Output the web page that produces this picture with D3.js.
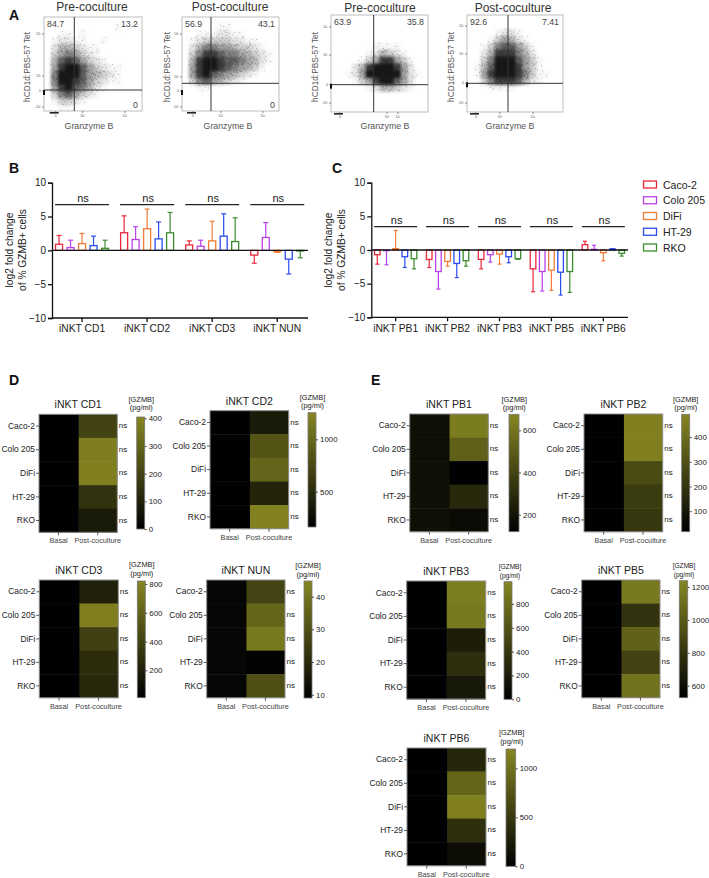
<!DOCTYPE html>
<html><head><meta charset="utf-8">
<script src="https://cdn.jsdelivr.net/npm/d3@7"></script>
<style>
html,body{margin:0;padding:0;background:#fff}
svg{display:block}
text{font-family:"Liberation Sans",Arial,sans-serif;fill:#222}
</style></head><body>
<svg id="chart" width="709" height="878"></svg>
<script>
// ---------- data ----------
const cellLines = ["Caco-2","Colo 205","DiFi","HT-29","RKO"];
const lineColors = ["#e8283c","#b840e8","#f07c38","#2a4cf2","#3c8c2c"];

// Panel B: bar means and whisker tips (log2 fold change)
const bGroups = ["iNKT CD1","iNKT CD2","iNKT CD3","iNKT NUN"];
const bMeans = [[0.9,0.4,1.0,0.7,0.3],[2.6,1.6,3.2,1.7,2.6],[0.8,0.6,1.4,2.1,1.3],[-0.7,1.9,-0.2,-1.3,-0.1]];
const bTips  = [[2.2,1.5,2.5,2.1,1.5],[5.1,3.5,6.1,4.2,5.6],[1.4,1.5,4.3,5.4,4.8],[-1.9,4.1,-0.3,-3.5,-1.1]];
// Panel C
const cGroups = ["iNKT PB1","iNKT PB2","iNKT PB3","iNKT PB5","iNKT PB6"];
const cMeans = [[-0.7,-0.1,0.2,-1.0,-1.3],[-1.4,-3.2,-1.7,-2.0,-1.6],[-1.4,-0.7,-0.6,-1.0,-1.3],[-2.8,-3.2,-3.0,-3.3,-3.2],[0.8,0.1,-0.4,0.15,-0.5]];
const cTips  = [[-2.1,-2.2,2.9,-2.6,-2.8],[-2.6,-5.8,-2.4,-4.1,-2.4],[-2.8,-1.8,-2.1,-1.9,-1.4],[-6.2,-6.1,-6.0,-6.7,-6.3],[1.3,0.7,-1.6,0.2,-0.9]];
const yTicksBar = [-10,-5,0,5,10];

// Heatmaps: [GZMB] pg/ml, basal and post-coculture per cell line
const conditions = ["Basal","Post-coculture"];
const cd1Basal=[2,3,2,2,3],       cd1Post=[200,380,385,150,80];
const cd2Basal=[170,170,170,170,170], cd2Post=[380,840,980,460,1220];
const cd3Basal=[15,15,15,15,15],  cd3Post=[210,780,400,280,250];
const nunBasal=[10.5,10.5,10.5,10.5,10.5], nunPost=[27,36,41,9.5,30];
const pb1Basal=[180,180,180,180,180], pb1Post=[630,520,122,285,165];
const pb2Basal=[20,20,20,20,20],  pb2Post=[470,468,280,230,215];
const pb3Basal=[10,10,10,10,10],  pb3Post=[910,890,215,345,175];
const pb5Basal=[530,530,530,530,530], pb5Post=[1170,800,1040,870,1130];
const pb6Basal=[10,10,10,10,10],  pb6Post=[335,900,1135,420,120];

// Flow cytometry: event density per coarse cell (0 = empty, 9 = darkest), top row first
const flowTitles = ["Pre-coculture","Post-coculture","Pre-coculture","Post-coculture"];
const flowLabels = [["84.7","13.2","0"],["56.9","43.1","0"],["63.9","35.8",""],["92.6","7.41",""]];
const flow1 = ["00000000000000","00000000001000","00110100000000","01221100100000","02443211000000","03565321000000","04787532100000","05899753211000","06999754321000","06998753211000","05897642100000","03675321000000","01332100000000","00110000000000"];
const flow2 = ["00000000000000","00000110000000","00111221100000","01233332211000","02466554332100","03688766543210","04899877654210","05899876543100","05897654321000","03675432100000","00110000000000","00000000000000","00000000000000","00000000000000"];
const flow3 = ["00000000000000","00000000000000","00000000000000","00000000000000","00000011110000","00000124321000","00001358853100","00024899985200","00125999995210","00013589975200","00000124432100","00000000000000","00000000000000","00000000000000"];
const flow4 = ["00000000000000","00000000000000","00001221000000","00013542100000","00136775310000","00248886420000","00369997531000","01479998531000","01589998631100","00368887421000","00011110000000","00000000000000","00000000000000","00000000000000"];
const flowYTickLabels = ["-10²","0","10²","10³"];
const flowXTickLabels = ["0","10²","10³"];

// ---------- layout ----------
const svg = d3.select("#chart");
const defs = svg.append("defs");
defs.append("filter").attr("id","soft").attr("x","-10%").attr("y","-10%").attr("width","120%").attr("height","120%")
  .append("feGaussianBlur").attr("stdDeviation",1.5);

const flowLayout = [
 {grid:flow1,x0:44,x1:142,y0:17,y1:111,gx:74.3,gy:90,tx:92,ty:11,yt:[107,91,76,34],xt:[55.7,82.7,125],lx:27,ax:89},
 {grid:flow2,x0:182,x1:279,y0:17,y1:111,gx:211,gy:83.3,tx:230,ty:11,yt:[107,91,77,34],xt:[193,221,263],lx:167,ax:228},
 {grid:flow3,x0:331,x1:428,y0:15,y1:112,gx:373.7,gy:84.7,tx:380,ty:12,yt:[103,84.7,55,27],xt:[340,387,398],lx:315,ax:385},
 {grid:flow4,x0:467,x1:563,y0:15,y1:112,gx:508,gy:83.3,tx:513,ty:12,yt:[103,83.3,54,26],xt:[476,500,533],lx:451,ax:510}
];
// fixed sub-cell places for the stipple that stands in for single events
const stippleU = [.12,.62,.34,.88,.05,.47,.76,.22,.95,.55,.30,.68,.15,.83,.41,.02,.59,.27,.72,.91,.37,.08,.50,.79];
const stippleV = [.31,.08,.72,.44,.90,.19,.63,.52,.12,.86,.38,.28,.68,.95,.03,.57,.47,.15,.80,.66,.24,.12,.98,.35];

flowLayout.forEach((p,i)=>{
  const g = svg.append("g");
  const rows = d3.range(p.grid.length), cols = d3.range(p.grid[0].length);
  const xB = d3.scaleBand().domain(cols).range([p.x0,p.x1]);
  const yB = d3.scaleBand().domain(rows).range([p.y0,p.y1]);
  const cells = rows.flatMap(r=>cols.map(c=>({r,c,v:+p.grid[r][c]}))).filter(d=>d.v>0);
  const op = d3.scalePow().exponent(1.55).domain([0,9]).range([0,0.96]);
  const clip = "fclip"+i;
  defs.append("clipPath").attr("id",clip).append("rect").attr("x",p.x0).attr("y",p.y0).attr("width",p.x1-p.x0).attr("height",p.y1-p.y0);
  const cg = g.append("g").attr("clip-path",`url(#${clip})`);
  cg.append("g").attr("filter","url(#soft)")
    .selectAll("rect").data(cells).join("rect")
    .attr("x",d=>xB(d.c)).attr("y",d=>yB(d.r)).attr("width",xB.bandwidth()+.5).attr("height",yB.bandwidth()+.5)
    .attr("fill","#111").attr("opacity",d=>op(d.v));
  const dots = cells.flatMap(d=>d3.range(Math.min(24,d.v*2)).map(k=>{
    const s=(k+d.r*7+d.c*5)%24, t=(k+d.r*3+d.c*11)%24;
    return {x:xB(d.c)+stippleU[s]*xB.bandwidth(), y:yB(d.r)+stippleV[t]*yB.bandwidth()};
  }));
  cg.append("g").selectAll("circle").data(dots).join("circle")
    .attr("cx",d=>d.x).attr("cy",d=>d.y).attr("r",.42).attr("fill","#222").attr("opacity",.65);
  g.append("rect").attr("x",p.x0).attr("y",p.y0).attr("width",p.x1-p.x0).attr("height",p.y1-p.y0)
    .attr("fill","none").attr("stroke","#bdbdbd").attr("stroke-width",1);
  g.append("line").attr("x1",p.gx).attr("x2",p.gx).attr("y1",p.y0).attr("y2",p.y1).attr("stroke","#333").attr("stroke-width",1);
  g.append("line").attr("x1",p.x0).attr("x2",p.x1).attr("y1",p.gy).attr("y2",p.gy).attr("stroke","#333").attr("stroke-width",1);
  // on-axis events
  g.append("rect").attr("x",p.x0-1).attr("y",p.yt[1]-1).attr("width",2).attr("height",5).attr("fill","#111");
  g.append("rect").attr("x",p.xt[0]-6).attr("y",p.y1+1).attr("width",9).attr("height",1.6).attr("fill","#222");
  g.selectAll(".yt").data(flowYTickLabels).join("g").each(function(t,k){
    const s=d3.select(this);
    s.append("line").attr("x1",p.x0-2).attr("x2",p.x0).attr("y1",p.yt[k]).attr("y2",p.yt[k]).attr("stroke","#444").attr("stroke-width",.6);
    s.append("text").attr("x",p.x0-3).attr("y",p.yt[k]+1).attr("text-anchor","end").attr("font-size",3.4).style("fill","#555").text(t);
  });
  g.selectAll(".xt").data(flowXTickLabels).join("g").each(function(t,k){
    const s=d3.select(this);
    s.append("line").attr("x1",p.xt[k]).attr("x2",p.xt[k]).attr("y1",p.y1).attr("y2",p.y1+2).attr("stroke","#444").attr("stroke-width",.6);
    s.append("text").attr("x",p.xt[k]).attr("y",p.y1+6).attr("text-anchor","middle").attr("font-size",3.4).style("fill","#555").text(t);
  });
  g.append("text").attr("x",p.tx).attr("y",p.ty).attr("text-anchor","middle").attr("font-size",12).style("fill","#333").text(flowTitles[i]);
  g.append("text").attr("x",p.ax).attr("y",129).attr("text-anchor","middle").attr("font-size",8.8).style("fill","#555").text("Granzyme B");
  g.append("text").attr("transform",`translate(${p.lx+3},67) rotate(-90)`).attr("text-anchor","middle").attr("font-size",8.3).style("fill","#555").text("hCD1d:PBS-57 Tet");
  const lab = flowLabels[i];
  g.append("text").attr("x",p.x0+3).attr("y",p.y0+10).attr("font-size",8.8).style("fill","#444").text(lab[0]);
  g.append("text").attr("x",p.x1-4).attr("y",p.y0+10).attr("text-anchor","end").attr("font-size",8.8).style("fill","#444").text(lab[1]);
  if(lab[2]) g.append("text").attr("x",p.x1-4).attr("y",p.y1-3).attr("text-anchor","end").attr("font-size",8.8).style("fill","#444").text(lab[2]);
});

// ---------- bars ----------
function barChart(o){
  const g = svg.append("g");
  const y = d3.scaleLinear().domain([-10,10]).range([o.yBottom,o.yTop]);
  const x0 = d3.scaleBand().domain(o.groups).range(o.band);
  const x1 = d3.scaleBand().domain(cellLines).range([o.inner,x0.bandwidth()-o.inner]);
  const ax = g.append("g").attr("transform",`translate(${o.axisX},0)`)
    .call(d3.axisLeft(y).tickValues(yTicksBar).tickSize(4).tickPadding(2).tickFormat(d=>d<0?"−"+(-d):d));
  ax.selectAll("text").attr("font-size",10).style("font-family",'"Liberation Sans"');
  ax.selectAll("line,path").attr("stroke","#111").attr("stroke-width",1.3);
  const bx = g.append("g").attr("transform",`translate(0,${o.yBottom})`)
    .call(d3.axisBottom(x0).tickSize(4).tickPadding(3));
  bx.selectAll("text").attr("font-size",10.3).style("font-family",'"Liberation Sans"');
  bx.selectAll("line").attr("stroke","#111").attr("stroke-width",1.3);
  bx.select("path").remove();
  g.append("line").attr("x1",o.axisX).attr("x2",o.axisEnd).attr("y1",o.yBottom).attr("y2",o.yBottom).attr("stroke","#111").attr("stroke-width",1.3);
  o.groups.forEach((gr,i)=>{
    const gg = g.append("g").attr("transform",`translate(${x0(gr)},0)`);
    const rows = cellLines.map((c,k)=>({c,k,m:o.means[i][k],t:o.tips[i][k]}));
    const bw = o.barW, cap = o.capW;
    gg.selectAll("line.w").data(rows).join("line").attr("class","w")
      .attr("x1",d=>x1(d.c)+x1.bandwidth()/2).attr("x2",d=>x1(d.c)+x1.bandwidth()/2)
      .attr("y1",d=>y(d.m)).attr("y2",d=>y(d.t)).attr("stroke",d=>lineColors[d.k]).attr("stroke-width",1.2);
    gg.selectAll("line.c").data(rows).join("line").attr("class","c")
      .attr("x1",d=>x1(d.c)+x1.bandwidth()/2-cap/2).attr("x2",d=>x1(d.c)+x1.bandwidth()/2+cap/2)
      .attr("y1",d=>y(d.t)).attr("y2",d=>y(d.t)).attr("stroke",d=>lineColors[d.k]).attr("stroke-width",1.2);
    gg.selectAll("rect").data(rows).join("rect")
      .attr("x",d=>x1(d.c)+x1.bandwidth()/2-bw/2).attr("width",bw)
      .attr("y",d=>Math.min(y(d.m),y(0))).attr("height",d=>Math.abs(y(d.m)-y(0)))
      .attr("fill","none").attr("stroke",d=>lineColors[d.k]).attr("stroke-width",1.3);
    const cx = x0.bandwidth()/2;
    gg.append("line").attr("x1",cx-o.nsHalf).attr("x2",cx+o.nsHalf).attr("y1",y(o.nsValue)).attr("y2",y(o.nsValue)).attr("stroke","#222").attr("stroke-width",1.2);
    gg.append("text").attr("x",cx+1).attr("y",y(o.nsValue)-2.5).attr("text-anchor","middle").attr("font-size",11).text("ns");
  });
  g.append("line").attr("x1",o.axisX).attr("x2",o.axisEnd).attr("y1",y(0)).attr("y2",y(0)).attr("stroke","#111").attr("stroke-width",1.3);
  g.append("text").attr("transform",`translate(${o.axisX-39},250) rotate(-90)`).attr("text-anchor","middle").attr("font-size",10.2).text("log2 fold change");
  g.append("text").attr("transform",`translate(${o.axisX-26.5},250) rotate(-90)`).attr("text-anchor","middle").attr("font-size",10.2).text("of % GZMB+ cells");
}
barChart({groups:bGroups,means:bMeans,tips:bTips,band:[49.5,309.8],inner:3.8,axisX:52,axisEnd:308,yTop:182.7,yBottom:318,barW:7,capW:5,nsValue:6.76,nsHalf:27});
barChart({groups:cGroups,means:cMeans,tips:cTips,band:[369.7,629.3],inner:3,axisX:371.3,axisEnd:628,yTop:182.7,yBottom:317.3,barW:5.6,capW:4,nsValue:3.46,nsHalf:21.5});

// legend
const legendY = d3.scalePoint().domain(cellLines).range([184.5,247.5]);
const leg = svg.append("g").selectAll("g").data(cellLines).join("g").attr("transform",d=>`translate(643,${legendY(d)})`);
leg.append("rect").attr("x",.5).attr("y",-3.5).attr("width",13).attr("height",7).attr("fill","none").attr("stroke",(d,i)=>lineColors[i]).attr("stroke-width",1.3);
leg.append("text").attr("x",20).attr("y",4).attr("font-size",10.5).text(d=>d);

// ---------- heatmaps ----------
function heatmap(o){
  const g = svg.append("g");
  const x = d3.scaleBand().domain(conditions).range([o.x0,o.x1]);
  const y = d3.scaleBand().domain(cellLines).range([o.y0,o.y1]);
  const color = d3.scaleLinear().domain(o.domain).range(["#000003","#868622"]).clamp(true);
  const rows = cellLines.flatMap((c,k)=>[{c,cond:conditions[1],v:o.post[k]},{c,cond:conditions[0],v:o.basal[k]}]);
  g.selectAll("rect.cell").data(rows).join("rect").attr("class","cell")
    .attr("x",d=>x(d.cond)).attr("y",d=>y(d.c)).attr("width",d=>x.bandwidth()+(d.cond===conditions[0]?.6:0)).attr("height",y.bandwidth()+.4).attr("fill",d=>color(d.v));
  g.append("rect").attr("x",o.x0).attr("y",o.y0).attr("width",o.x1-o.x0).attr("height",o.y1-o.y0).attr("fill","none").attr("stroke","#8c8c8c").attr("stroke-width",1);
  const ay = g.append("g").attr("transform",`translate(${o.x0},0)`).call(d3.axisLeft(y).tickSize(3).tickPadding(1));
  ay.select("path").remove();
  ay.selectAll("text").attr("font-size",8.4).style("font-family",'"Liberation Sans"');
  ay.selectAll("line").attr("stroke","#333").attr("stroke-width",.8);
  const ax = g.append("g").attr("transform",`translate(0,${o.y1})`).call(d3.axisBottom(x).tickSize(3).tickPadding(3));
  ax.select("path").remove();
  ax.selectAll("text").attr("font-size",7.3).style("font-family",'"Liberation Sans"').style("fill","#444");
  ax.selectAll("line").attr("stroke","#333").attr("stroke-width",.8);
  g.selectAll("text.ns").data(cellLines).join("text").attr("class","ns")
    .attr("x",o.x1+1.5).attr("y",d=>y(d)+y.bandwidth()/2+2).attr("font-size",8).text("ns");
  g.append("text").attr("x",(o.x0+o.x1)/2).attr("y",o.y0-6).attr("text-anchor","middle").attr("font-size",10.5).text(o.name);
  const grad = "grad"+o.name.replace(/\W/g,"");
  const lg = defs.append("linearGradient").attr("id",grad).attr("x1",0).attr("x2",0).attr("y1",1).attr("y2",0);
  lg.append("stop").attr("offset",0).attr("stop-color",color(o.domain[0]));
  lg.append("stop").attr("offset",1).attr("stop-color",color(o.domain[1]));
  g.append("rect").attr("x",o.bx0).attr("y",o.by0).attr("width",o.bx1-o.bx0).attr("height",o.by1-o.by0).attr("fill",`url(#${grad})`).attr("stroke","#777").attr("stroke-width",.8);
  const sc = d3.scaleLinear().domain(o.domain).range([o.by1,o.by0]);
  const cb = g.append("g").attr("transform",`translate(${o.bx1},0)`).call(d3.axisRight(sc).tickValues(o.ticks).tickSize(2).tickPadding(2).tickFormat(d3.format("d")));
  cb.select("path").remove();
  cb.selectAll("text").attr("font-size",7.9).style("font-family",'"Liberation Sans"');
  cb.selectAll("line").attr("stroke","#222").attr("stroke-width",.8);
  const gx=(o.bx0+o.bx1)/2+(o.gdx||0);
  g.append("text").attr("x",gx).attr("y",o.gy).attr("text-anchor","middle").attr("font-size",o.gf||7.4).text("[GZMB]");
  g.append("text").attr("x",gx).attr("y",o.gy+8.5).attr("text-anchor","middle").attr("font-size",o.gf||7.4).text("(pg/ml)");
}
heatmap({name:"iNKT CD1",basal:cd1Basal,post:cd1Post,domain:[0,405],ticks:[0,100,200,300,400],x0:39,x1:117.3,y0:414.3,y1:532.3,bx0:136.7,bx1:144.7,by0:417,by1:529,gy:401.5,gdx:.6});
heatmap({name:"iNKT CD2",basal:cd2Basal,post:cd2Post,domain:[163,1254],ticks:[500,1000],x0:210,x1:288.7,y0:410.7,y1:528.7,bx0:308,bx1:316,by0:412.7,by1:527,gy:399.5,gdx:.5});
heatmap({name:"iNKT CD3",basal:cd3Basal,post:cd3Post,domain:[10,821],ticks:[200,400,600,800],x0:39.3,x1:118.3,y0:580,y1:697.7,bx0:137.3,bx1:145.3,by0:581,by1:697.7,gy:567,gdx:.5});
heatmap({name:"iNKT NUN",basal:nunBasal,post:nunPost,domain:[9,44.8],ticks:[10,20,30,40],x0:206.7,x1:285,y0:580,y1:697.7,bx0:304,bx1:312,by0:581,by1:698,gy:568,gdx:0});
heatmap({name:"iNKT PB1",basal:pb1Basal,post:pb1Post,domain:[119,676],ticks:[200,400,600],x0:409.7,x1:488.3,y0:414,y1:531.7,bx0:509,bx1:519,by0:414.3,by1:531.7,gy:401.5,gdx:.3});
heatmap({name:"iNKT PB2",basal:pb2Basal,post:pb2Post,domain:[17,492],ticks:[100,200,300,400],x0:584,x1:662.7,y0:414,y1:531.7,bx0:681.7,bx1:689.7,by0:414.3,by1:531.7,gy:401.5,gdx:0});
heatmap({name:"iNKT PB3",basal:pb3Basal,post:pb3Post,domain:[0,986],ticks:[0,200,400,600,800],x0:406.7,x1:485.7,y0:581,y1:699,bx0:504,bx1:512,by0:581.7,by1:699.3,gy:569,gdx:2,gf:6.6});
heatmap({name:"iNKT PB5",basal:pb5Basal,post:pb5Post,domain:[527,1238],ticks:[600,800,1000,1200],x0:581.7,x1:660,y0:580,y1:697.7,bx0:679.3,bx1:687.7,by0:580.7,by1:697.7,gy:568,gdx:.5,gf:6.6});
heatmap({name:"iNKT PB6",basal:pb6Basal,post:pb6Post,domain:[0,1197],ticks:[0,500,1000],x0:407,x1:486,y0:748,y1:865.7,bx0:506,bx1:515.7,by0:749,by1:866.3,gy:735,gdx:.8});

// panel letters
[["A",9,20],["B",9,173],["C",332,173],["D",9,385],["E",371,385]].forEach(([t,x,y])=>
  svg.append("text").attr("x",x).attr("y",y).attr("font-size",14).attr("font-weight","bold").style("fill","#111").text(t));
</script>
</body></html>
